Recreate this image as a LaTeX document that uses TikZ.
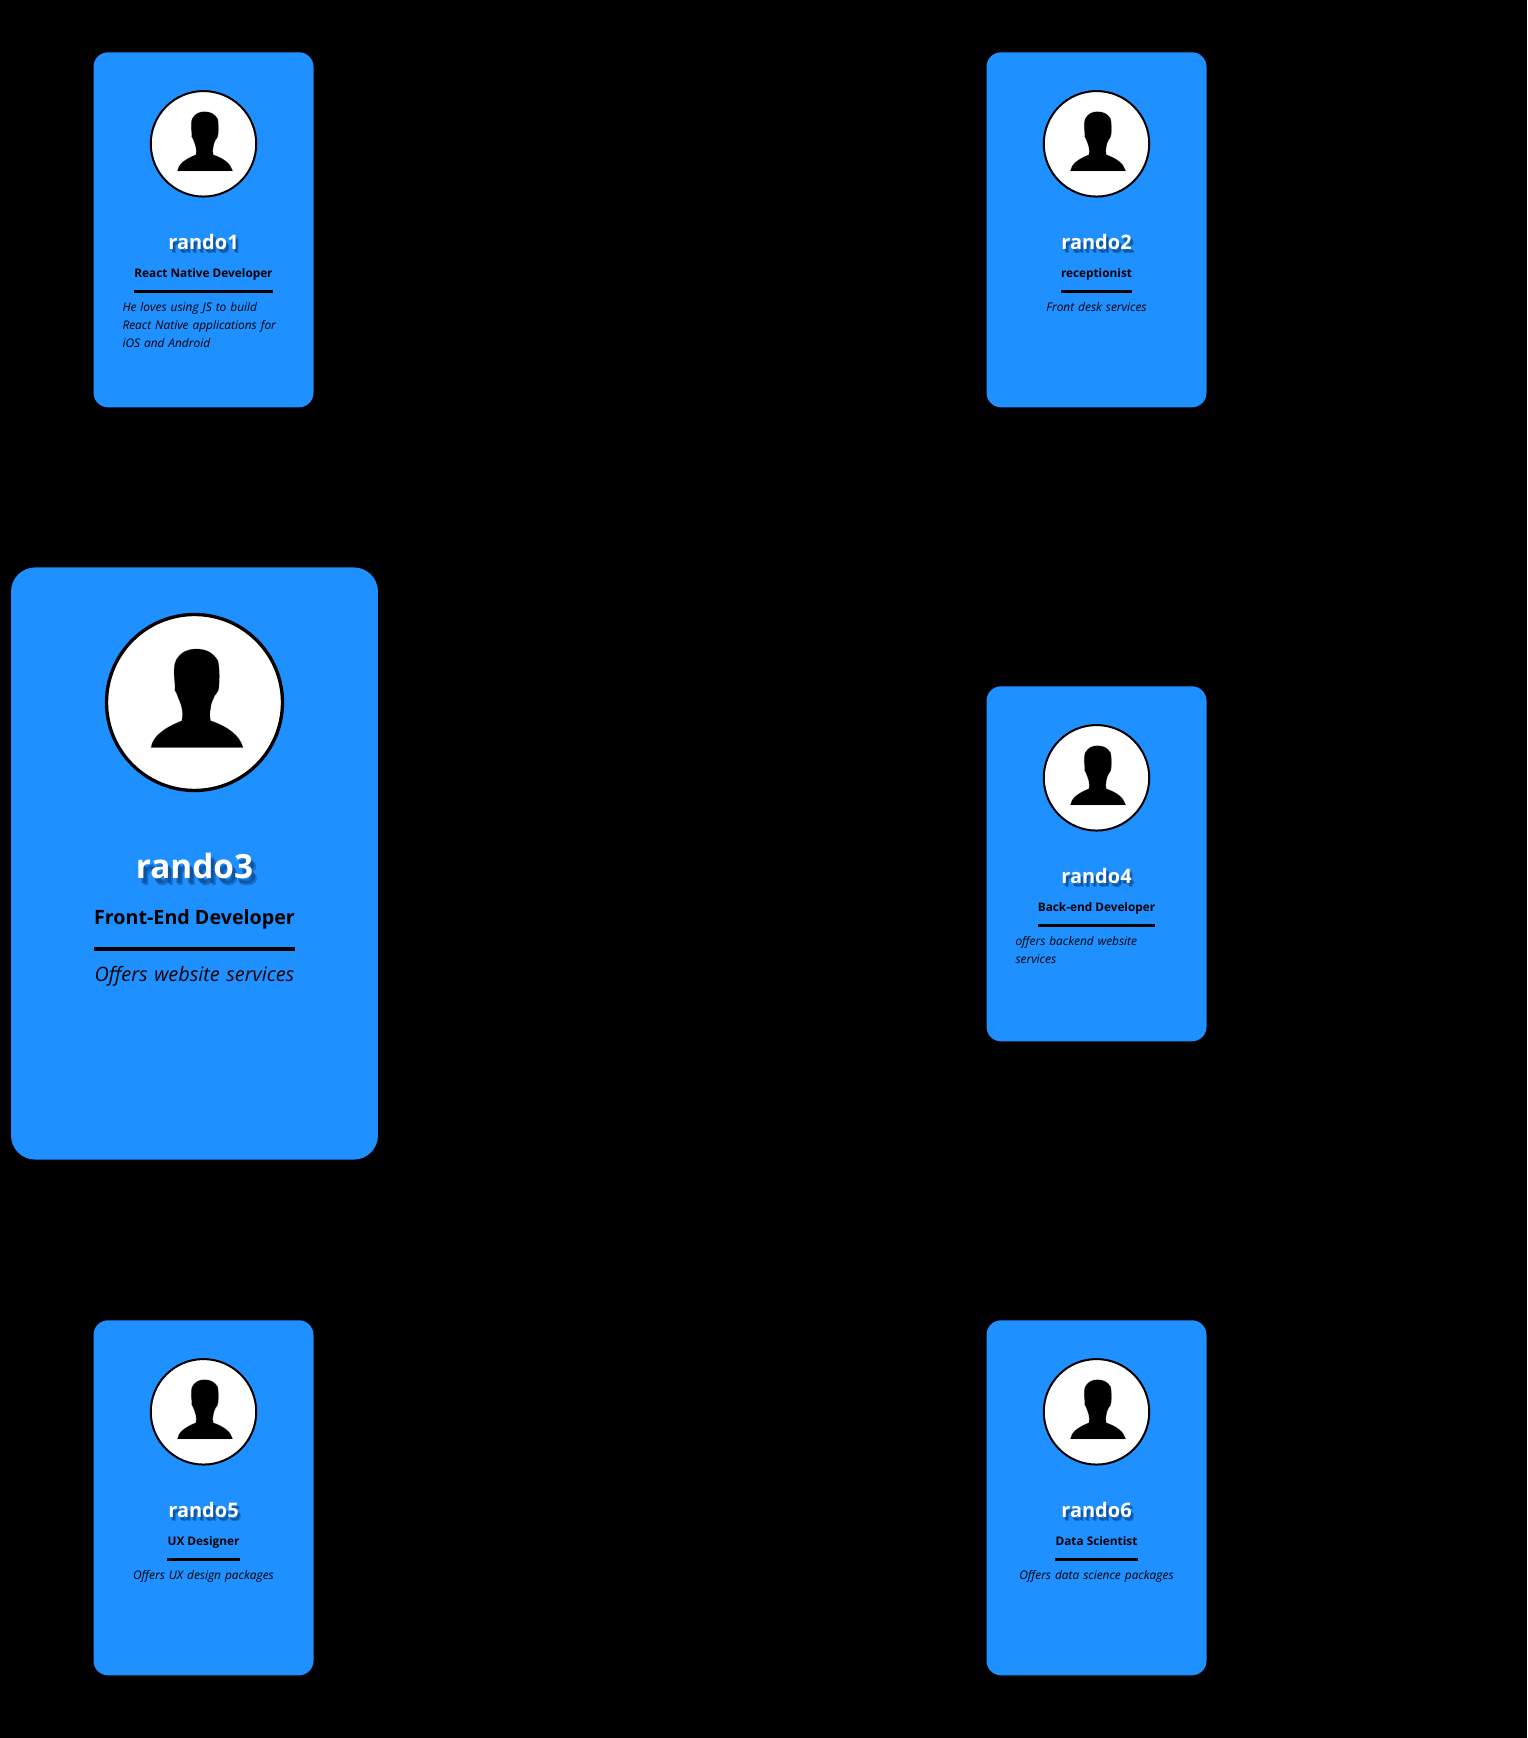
\documentclass[tikz,border=0pt]{standalone}
\usepackage{fontspec}
\setmainfont{Open Sans}
\usepackage{tikz}
\usetikzlibrary{positioning}
\definecolor{Dodger}{HTML}{1E90FF}
\definecolor{Shade}{HTML}{0A3C78}

\tikzset{
  silhouette/.pic={
    \fill[black,draw=black,draw opacity=.35,line width=.8pt] (-26pt,-27pt) .. controls (-25pt,-20.6pt) and (-19pt,-15.6pt) .. (-7.5pt,-11pt)
      .. controls (-7pt,-8.6pt) and (-7pt,-6.6pt) .. (-7.5pt,-3.6pt)
      .. controls (-8pt,-.6pt) and (-9.5pt,2pt) .. (-10.5pt,5pt)
      .. controls (-12pt,6.4pt) and (-12pt,8.4pt) .. (-11.6pt,10pt)
      .. controls (-12.5pt,17.4pt) and (-12.5pt,22.4pt) .. (-11pt,25.4pt)
      .. controls (-8pt,30.4pt) and (-4pt,32pt) .. (1pt,32pt)
      .. controls (7pt,32pt) and (11pt,29.9pt) .. (14pt,25pt)
      .. controls (15pt,20.4pt) and (15pt,14.4pt) .. (14.6pt,10pt)
      .. controls (15pt,7.4pt) and (13pt,5.4pt) .. (12pt,4pt)
      .. controls (11pt,1.4pt) and (9.6pt,-.6pt) .. (9.6pt,-3.6pt)
      .. controls (9pt,-5.6pt) and (9pt,-8.6pt) .. (9.6pt,-11pt)
      .. controls (20pt,-14.6pt) and (27pt,-19.6pt) .. (29pt,-27pt) -- cycle;
  }
}

% id, card centre, scale, gap above photo, name, role, description, alignment
\newcommand\personcard[8]{
  \begin{scope}[shift={#2},scale=#3,transform shape]
    \node[card,rounded corners=#3*14.5pt] (card#1) {};
    \node[photo,line width=#3*2pt,below=#4 of card#1.north,anchor=center] (photo#1) {};
    \pic at (photo#1.center) {silhouette};
    \foreach \dx/\dy/\op in {2/3/.5,3/4/.4}
      \node[person,text=Shade,opacity=\op,below=105.6pt of photo#1.center,anchor=base,xshift=\dx pt,yshift=-\dy pt] {#5};
    \node[person,text=white,below=105.6pt of photo#1.center,anchor=base] (person#1) {#5};
    \node[role,below=27.6pt of person#1.base,anchor=base] (role#1) {#6};
    \draw[line width=#3*2.1pt] ([yshift=-14.5pt]role#1.base west) -- ([yshift=-14.5pt]role#1.base east);
    \node[desc,align=#8,below=25pt of role#1.base,anchor=north] (desc#1) {#7};
  \end{scope}
}

\begin{document}
\begin{tikzpicture}[
    card/.style={fill=Dodger,minimum width=220pt,minimum height=355pt,inner sep=0pt},
    photo/.style={circle,draw=black,fill=white,minimum size=105.5pt,inner sep=0pt},
    person/.style={font=\fontsize{20}{22}\selectfont\bfseries,inner sep=0pt},
    role/.style={font=\fontsize{11.8}{14}\selectfont\bfseries,inner sep=0pt},
    desc/.style={font=\fontsize{11.9}{18}\selectfont\itshape,text width=162pt,inner sep=0pt}
  ]
    \fill[black] (0,0) rectangle (1527pt,-1738pt);
    \useasboundingbox (0,0) rectangle (1527pt,-1738pt);
    \personcard{1}{(203.5pt,-229.8pt)}{1}{91.7pt}{rando1}{React Native Developer}{He loves using JS to build\\React Native applications for\\iOS and Android}{left}
    \personcard{2}{(1096.5pt,-229.8pt)}{1}{91.7pt}{rando2}{receptionist}{Front desk services}{center}
    \personcard{3}{(194.5pt,-863.5pt)}{1.668}{81.2pt}{rando3}{Front-End Developer}{Offers website services}{center}
    \personcard{4}{(1096.5pt,-863.8pt)}{1}{91.7pt}{rando4}{Back-end Developer}{offers backend website\\services}{left}
    \personcard{5}{(203.5pt,-1497.8pt)}{1}{91.7pt}{rando5}{UX Designer}{Offers UX design packages}{center}
    \personcard{6}{(1096.5pt,-1497.8pt)}{1}{91.7pt}{rando6}{Data Scientist}{Offers data science packages}{center}
\end{tikzpicture}
\end{document}
